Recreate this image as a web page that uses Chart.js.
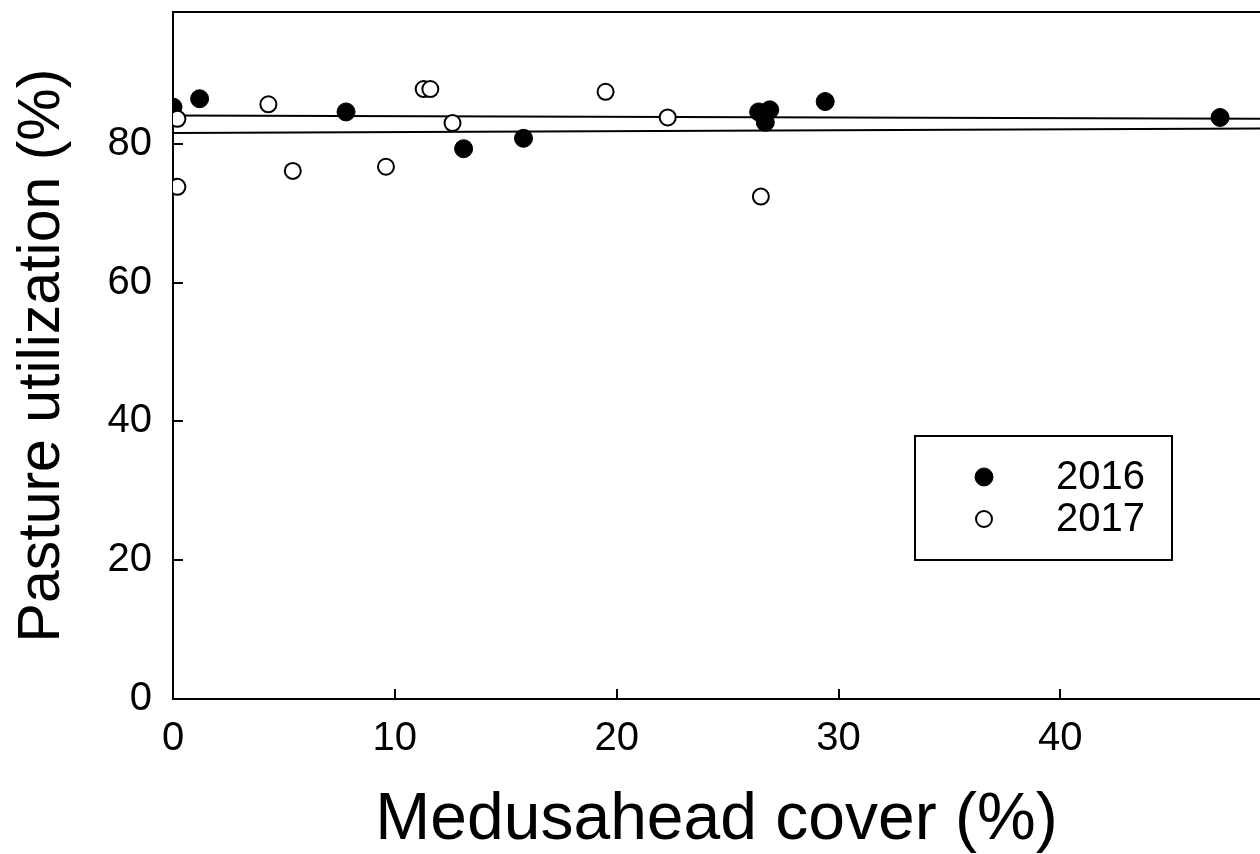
<!DOCTYPE html>
<html>
<head>
<meta charset="utf-8">
<script src="https://cdn.jsdelivr.net/npm/chart.js@4.4.0/dist/chart.umd.min.js"></script>
<style>
  html, body { margin: 0; padding: 0; overflow: hidden; background: #fff; }
  #wrap { width: 1270px; height: 854px; }
</style>
</head>
<body>
<div id="wrap"><canvas id="chart"></canvas></div>
<script>
// --- Values ---
const cover2016 = [0.0, 1.2, 7.8, 13.1, 15.8, 26.4, 26.9, 26.7, 29.4, 47.2];
const util2016  = [85.3, 86.5, 84.6, 79.3, 80.8, 84.6, 84.9, 83.1, 86.1, 83.8];

const cover2017 = [0.2, 0.2, 4.3, 5.4, 9.6, 11.3, 11.6, 12.6, 19.5, 22.3, 26.5];
const util2017  = [83.6, 73.8, 85.7, 76.1, 76.7, 87.9, 87.9, 83.0, 87.5, 83.8, 72.4];

// regression lines, end points
const fitX    = [0, 49];
const fit2016 = [84.1, 83.6];
const fit2017 = [81.55, 82.2];

const xTicks = [0, 10, 20, 30, 40];
const yTicks = [0, 20, 40, 60, 80];

const FONT = "'Liberation Sans', Arial, sans-serif";

function pts(xs, ys) {
  return xs.map((x, i) => ({ x: x, y: ys[i] }));
}

// axis frame (left, top, bottom) + inward tick marks, under the points
const framePlugin = {
  id: "frame",
  beforeDatasetsDraw(chart) {
    const { ctx, chartArea: a, scales } = chart;
    ctx.save();
    ctx.strokeStyle = "#000";
    ctx.lineWidth = 2;
    ctx.beginPath();
    ctx.moveTo(chart.width, a.top);
    ctx.lineTo(a.left, a.top);
    ctx.lineTo(a.left, a.bottom);
    ctx.lineTo(chart.width, a.bottom);
    xTicks.forEach(v => {
      const px = Math.round(scales.x.getPixelForValue(v));
      ctx.moveTo(px, a.bottom);
      ctx.lineTo(px, a.bottom - 10);
    });
    yTicks.forEach(v => {
      const py = Math.round(scales.y.getPixelForValue(v));
      ctx.moveTo(a.left, py);
      ctx.lineTo(a.left + 10, py);
    });
    ctx.stroke();
    ctx.restore();
  }
};

// boxed legend inside the plot
const legendBox = {
  id: "legendBox",
  afterDraw(chart) {
    const ctx = chart.ctx;
    const box = { x: 915, y: 436, w: 257, h: 124 };
    ctx.save();
    ctx.strokeStyle = "#000";
    ctx.lineWidth = 2;
    ctx.strokeRect(box.x, box.y, box.w, box.h);
    const items = chart.data.datasets.filter(d => d.inLegend);
    items.sort((a, b) => a.legendRow - b.legendRow);
    items.forEach((d, i) => {
      const cy = 477 + i * 42;
      ctx.beginPath();
      ctx.arc(984, cy, d.pointRadius, 0, Math.PI * 2);
      ctx.fillStyle = d.backgroundColor;
      ctx.fill();
      ctx.lineWidth = d.borderWidth;
      ctx.strokeStyle = d.borderColor;
      ctx.stroke();
      ctx.fillStyle = "#000";
      ctx.font = "40px " + FONT;
      ctx.textAlign = "left";
      ctx.textBaseline = "middle";
      ctx.fillText(d.label, 1056, cy + 1);
    });
    ctx.restore();
  }
};

const chart = new Chart(document.getElementById("chart"), {
  type: "scatter",
  data: {
    datasets: [
      {
        label: "2017",
        data: pts(cover2017, util2017),
        backgroundColor: "#fff",
        borderColor: "#000",
        borderWidth: 2,
        pointRadius: 8,
        order: 1,
        inLegend: true,
        legendRow: 1
      },
      {
        label: "2016",
        data: pts(cover2016, util2016),
        backgroundColor: "#000",
        borderColor: "#000",
        borderWidth: 1,
        pointRadius: 9,
        order: 2,
        inLegend: true,
        legendRow: 0
      },
      {
        label: "fit 2016",
        type: "line",
        data: pts(fitX, fit2016),
        borderColor: "#000",
        borderWidth: 2,
        pointRadius: 0,
        fill: false,
        order: 3
      },
      {
        label: "fit 2017",
        type: "line",
        data: pts(fitX, fit2017),
        borderColor: "#000",
        borderWidth: 2,
        pointRadius: 0,
        fill: false,
        order: 3
      }
    ]
  },
  options: {
    responsive: true,
    maintainAspectRatio: false,
    animation: false,
    events: [],
    layout: { padding: { top: 12, right: 4, left: 0, bottom: 0 } },
    plugins: {
      legend: { display: false },
      tooltip: { enabled: false }
    },
    scales: {
      x: {
        type: "linear",
        min: 0,
        max: 49,
        afterBuildTicks: s => { s.ticks = xTicks.map(v => ({ value: v })); },
        afterFit: s => {
          s.height = 155;
          s.paddingLeft = 0; s.paddingRight = 0;
          s.paddingTop = 0; s.paddingBottom = 0;
        },
        grid: { display: false, drawTicks: false },
        border: { display: false },
        ticks: {
          color: "#000",
          padding: 16,
          maxRotation: 0,
          font: { family: FONT, size: 40 }
        },
        title: {
          display: true,
          text: "Medusahead cover (%)",
          color: "#000",
          padding: { top: 0, bottom: 0 },
          font: { family: FONT, size: 66, lineHeight: 1 }
        }
      },
      y: {
        type: "linear",
        min: 0,
        max: 99,
        afterBuildTicks: s => { s.ticks = yTicks.map(v => ({ value: v })); },
        afterFit: s => {
          s.width = 173;
          s.paddingLeft = 0; s.paddingRight = 0;
          s.paddingTop = 0; s.paddingBottom = 0;
        },
        grid: { display: false, drawTicks: false },
        border: { display: false },
        ticks: {
          color: "#000",
          padding: 21,
          font: { family: FONT, size: 40 }
        },
        title: {
          display: true,
          text: "Pasture utilization (%)",
          color: "#000",
          padding: { top: 13, bottom: 0 },
          font: { family: FONT, size: 59, lineHeight: 1 }
        }
      }
    }
  },
  plugins: [framePlugin, legendBox]
});
</script>
</body>
</html>
